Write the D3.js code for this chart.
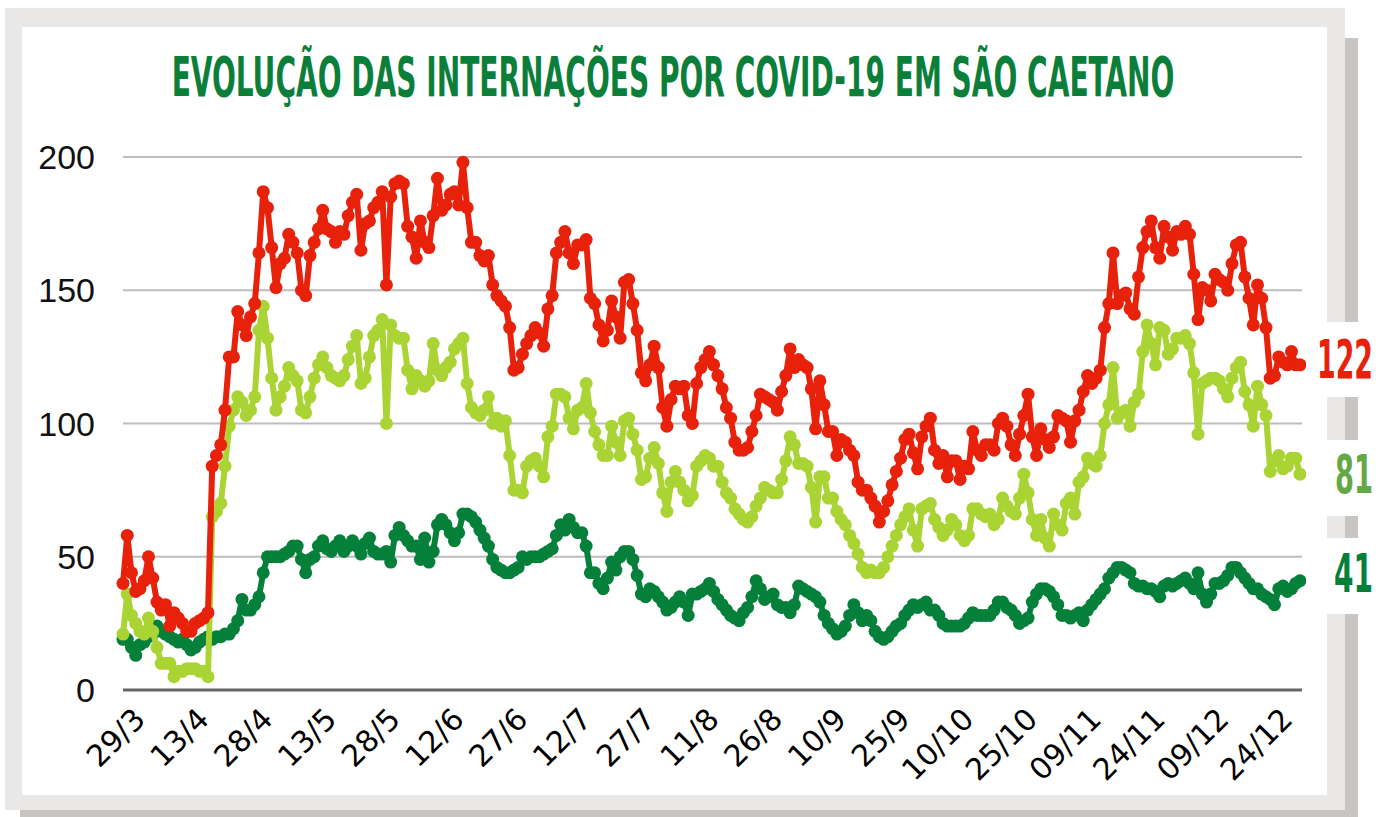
<!DOCTYPE html>
<html>
<head>
<meta charset="utf-8">
<script src="https://cdn.jsdelivr.net/npm/d3@7"></script>
<style>
  body { margin: 0; background: #fff; }
  svg { display: block; }
</style>
</head>
<body>
<div id="chart"></div>
<script>
// daily values from 29/3 to 31/12
const tickLabels = ["29/3","13/4","28/4","13/5","28/5","12/6","27/6","12/7","27/7","11/8",
  "26/8","10/9","25/9","10/10","25/10","09/11","24/11","09/12","24/12"];

// total de internados (red)
const total = [
  40,58,44,37,38,41,50,42,33,30, 32,24,29,27,25,22,22,25,26,27,
  29,84,88,92,105,125,125,142,137,133, 140,145,164,187,181,166,151,160,162,171,
  168,164,150,148,163,168,173,180,173,172, 168,172,171,178,183,186,165,175,176,181,
  183,187,152,185,190,191,190,174,170,162, 176,168,166,178,192,180,182,186,187,182,
  198,181,168,168,163,161,163,152,148,146, 144,136,120,121,126,130,133,136,134,129,
  143,148,164,168,172,164,160,167,167,169, 147,145,137,131,135,146,140,132,153,154,
  145,135,119,116,122,129,121,106,99,109, 114,113,114,103,100,115,121,124,127,122,
  118,113,106,102,93,90,90,91,97,103, 111,110,109,108,105,112,118,128,121,124,
  122,121,113,98,116,107,97,97,88,94, 93,90,88,78,75,75,72,69,63,67,
  71,77,82,87,94,96,89,83,95,99, 102,90,85,88,80,86,86,79,84,83,
  97,90,88,92,92,90,100,102,99,92, 88,96,103,111,95,88,98,94,91,95,
  103,102,101,93,101,105,112,118,115,117, 120,136,145,164,145,148,149,143,141,155,
  166,172,176,166,162,174,170,165,172,171, 174,171,156,139,151,150,146,156,154,153,
  150,160,167,168,155,147,137,152,147,136, 117,118,125,123,122,127,122,122
];

// enfermaria (light green)
const enfermaria = [
  21,36,28,25,22,21,27,22,16,10, 10,10,5,7,7,8,8,8,7,7,
  5,65,67,70,84,99,105,110,108,103, 105,110,135,144,132,117,105,110,114,121,
  118,116,105,104,110,117,122,125,121,118, 117,116,118,124,129,133,115,117,125,133,
  135,139,100,137,133,132,132,120,113,118, 116,114,116,130,120,118,121,123,128,130,
  132,115,106,104,103,105,110,100,102,99, 101,88,75,75,74,84,86,87,84,80,
  95,99,111,111,110,102,98,105,106,115, 104,97,92,88,88,99,93,88,101,102,
  96,90,79,80,87,91,85,74,67,78, 82,78,75,71,73,84,86,88,87,84,
  84,78,74,72,68,66,64,63,65,69, 72,76,75,74,74,79,86,95,92,85,
  85,84,76,63,80,80,72,72,67,64, 62,58,55,51,46,44,45,44,44,46,
  50,54,58,62,65,68,60,54,68,69, 70,64,61,58,60,64,62,58,56,58,
  68,68,66,65,66,62,64,72,69,67, 66,72,81,74,64,58,64,57,54,66,
  62,60,70,72,66,78,80,87,85,84, 88,100,107,121,102,104,105,99,108,111,
  127,137,130,122,136,135,126,128,132,132, 133,130,119,96,115,116,117,117,116,113,
  110,117,121,123,112,107,99,114,107,103, 82,86,88,83,84,87,87,81
];

// UTI (dark green)
const uti = [
  19,19,16,13,17,18,20,21,24,22, 21,20,19,18,19,17,15,16,18,19,
  20,19,20,20,21,21,23,26,34,30, 30,32,35,44,50,50,50,50,51,52,
  54,54,49,44,49,50,54,56,53,52, 54,56,52,54,56,54,51,55,57,52,
  51,51,52,48,58,61,58,56,54,54, 49,57,48,52,62,64,62,59,56,59,
  66,66,65,63,60,57,54,49,46,45, 44,44,45,46,50,49,50,50,50,51,
  52,53,58,62,60,64,61,59,59,54, 44,44,40,38,42,48,45,50,52,52,
  49,43,36,35,38,37,35,33,30,31, 33,35,33,28,36,36,37,38,40,37,
  34,32,30,28,27,26,29,31,35,41, 38,34,35,36,32,31,31,29,32,39,
  38,37,36,35,33,28,25,23,21,22, 24,28,32,29,26,28,26,22,20,19,
  20,22,24,25,28,30,32,31,32,33, 30,30,28,25,24,24,24,24,25,27,
  29,28,28,28,28,30,33,33,31,30, 28,25,26,27,33,36,38,38,37,35,
  32,28,28,27,28,29,26,30,32,34, 36,38,42,44,46,46,45,44,40,39,
  39,38,38,37,35,39,40,39,40,41, 42,40,38,44,36,33,36,40,40,41,
  43,46,46,44,42,40,38,38,36,35, 34,32,38,39,37,38,40,41
];

const yTicks = [0, 50, 100, 150, 200];

const W = 1385, H = 817;
const condensed = "'Liberation Sans Narrow', 'DejaVu Sans Condensed', sans-serif";

const svg = d3.select("#chart").append("svg")
  .attr("width", W)
  .attr("height", H);

// frame with shadow
svg.append("rect").attr("x", 5).attr("y", 8).attr("width", 1340).attr("height", 802).attr("fill", "#e9e8e6");
svg.append("rect").attr("x", 1345).attr("y", 38).attr("width", 13).attr("height", 779).attr("fill", "#c6c5c1");
svg.append("rect").attr("x", 20).attr("y", 810).attr("width", 1338).attr("height", 7).attr("fill", "#c6c5c1");
svg.append("rect").attr("x", 22).attr("y", 27).attr("width", 1305).attr("height", 768).attr("fill", "#fff");

// squeeze a condensed text horizontally so it keeps its height but fits a width
function squeeze(sel, cx, cy, width, anchor) {
  const w = sel.node().getComputedTextLength();
  const k = width / w;
  sel.attr("x", 0).attr("y", 0)
    .attr("transform", `translate(${cx},${cy}) scale(${k},1)`)
    .attr("text-anchor", anchor);
}

// title
const title = svg.append("text")
  .style("font-family", condensed)
  .style("font-weight", "bold")
  .style("font-size", "56px")
  .attr("fill", "#0b7f3a")
  .text("EVOLUÇÃO DAS INTERNAÇÕES POR COVID-19 EM SÃO CAETANO");
squeeze(title, 673, 96, 1003, "middle");

const N = total.length;
const x = d3.scaleLinear().domain([0, N - 1]).range([123, 1300]);
const y = d3.scaleLinear().domain([0, 200]).range([690, 157]);

// gridlines
svg.append("g").selectAll("line")
  .data(yTicks.filter(d => d > 0))
  .join("line")
  .attr("x1", 123).attr("x2", 1302)
  .attr("y1", d => y(d)).attr("y2", d => y(d))
  .attr("stroke", "#bdbdbd").attr("stroke-width", 2);

svg.append("line")
  .attr("x1", 123).attr("x2", 1302)
  .attr("y1", y(0)).attr("y2", y(0))
  .attr("stroke", "#666").attr("stroke-width", 3);

// y labels
svg.append("g").selectAll("text")
  .data(yTicks)
  .join("text")
  .attr("x", 95).attr("y", d => y(d))
  .attr("dy", "0.36em")
  .attr("text-anchor", "end")
  .style("font-family", "'Liberation Sans', Arial, sans-serif")
  .style("font-size", "34px")
  .attr("fill", "#111")
  .text(d => d);

// x labels, every 15 days
const tickIdx = tickLabels.map((d, i) => i * 15);
svg.append("g").selectAll("text")
  .data(tickIdx)
  .join("text")
  .attr("transform", (d) => `translate(${x(d) + 24},721) rotate(-45)`)
  .attr("text-anchor", "end")
  .style("font-family", "'DejaVu Sans', Verdana, sans-serif")
  .style("font-size", "30px")
  .attr("fill", "#000")
  .text((d, i) => tickLabels[i]);

// series
const series = [
  { values: uti, color: "#04803a" },
  { values: enfermaria, color: "#a9d434" },
  { values: total, color: "#e8210b" }
];

const line = d3.line().x((d, i) => x(i)).y(d => y(d));

series.forEach(s => {
  const g = svg.append("g");
  g.append("path")
    .datum(s.values)
    .attr("d", line)
    .attr("fill", "none")
    .attr("stroke", s.color)
    .attr("stroke-width", 6)
    .attr("stroke-linejoin", "round");
  g.selectAll("circle")
    .data(s.values)
    .join("circle")
    .attr("cx", (d, i) => x(i))
    .attr("cy", d => y(d))
    .attr("r", 6.5)
    .attr("fill", s.color);
});

// end labels on white patches over the frame
const endLabels = [
  { value: total[N - 1], color: "#e8210b", cy: 359, top: 322, bottom: 397, w: 56 },
  { value: enfermaria[N - 1], color: "#63a845", cy: 474, top: 440, bottom: 516, w: 38 },
  { value: uti[N - 1], color: "#04803a", cy: 573, top: 538, bottom: 614, w: 39 }
];
endLabels.forEach(l => {
  svg.append("rect")
    .attr("x", 1306).attr("y", l.top)
    .attr("width", 79).attr("height", l.bottom - l.top)
    .attr("fill", "#fff");
  const t = svg.append("text")
    .attr("dy", "0.36em")
    .style("font-family", condensed)
    .style("font-weight", "bold")
    .style("font-size", "54px")
    .attr("fill", l.color)
    .text(l.value);
  squeeze(t, 1373, l.cy, l.w, "end");
});
</script>
</body>
</html>
